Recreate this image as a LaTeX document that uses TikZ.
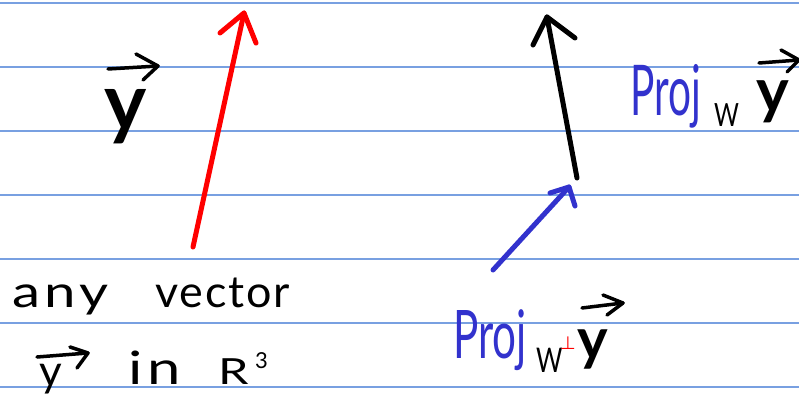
\documentclass[tikz,border=0pt]{standalone}
\usepackage{fontspec}
\setmainfont{Lato}
\newfontfamily\symfont{DejaVu Sans}
\definecolor{ruled}{RGB}{120,160,225}
\definecolor{penred}{RGB}{255,0,0}
\definecolor{penblue}{RGB}{50,50,205}
\tikzset{
  rule/.style={draw=ruled, line width=1.3pt},
  pen/.style={line width=5pt, line cap=round, line join=round},
  vecpen/.style={line width=3.5pt, line cap=round, line join=round, black},
  hand/.style={inner sep=0pt, anchor=base west},
}
\begin{document}
\begin{tikzpicture}[x=1pt,y=-1pt]
\useasboundingbox (0,0) rectangle (799,396);
\fill[white] (0,0) rectangle (799,396);
% ruled lines
\foreach \yy in {3,67,131,195,259,323,387}
  \draw[rule] (0,\yy) -- (799,\yy);
% red arrow
\coordinate (rt) at (193,247);
\coordinate (rh) at (244,13);
\coordinate (rb1) at (220,33);
\coordinate (rb2) at (256,43);
\draw[pen, penred] (rt) -- (rh);
\draw[pen, penred] (rb1) -- (rh) -- (rb2);
% black arrow
\coordinate (kt) at (577,178);
\coordinate (kh) at (547,17);
\coordinate (kb1) at (533,45);
\coordinate (kb2) at (575,38);
\draw[pen, black] (kt) -- (kh);
\draw[pen, black] (kb1) -- (kh) -- (kb2);
% blue arrow
\coordinate (bt) at (493,270);
\coordinate (bh) at (569,187);
\coordinate (bb1) at (550,193);
\coordinate (bb2) at (575,206);
\draw[pen, penblue] (bt) -- (bh);
\draw[pen, penblue] (bb1) -- (bh) -- (bb2);
% left y-vector
\node[hand, font=\fontsize{80}{84}\selectfont\bfseries] (yl) at (104,130) {y};
\coordinate (yla) at (108,69);
\coordinate (ylh) at (158,66);
\coordinate (ylb1) at (136,54);
\coordinate (ylb2) at (143,80);
\draw[vecpen] (yla) -- (ylh);
\draw[vecpen] (ylb1) -- (ylh) -- (ylb2);
% any vector
\node[hand, font=\fontsize{44}{46}\selectfont\addfontfeature{LetterSpace=8}] (any) at (12,307) {\scalebox{1.28}[1]{any}};
\node[hand, font=\fontsize{44}{46}\selectfont\addfontfeature{LetterSpace=4}] (vector) at (155,307) {\scalebox{1.02}[1]{vector}};
% y in R^3
\node[hand, font=\fontsize{44}{48}\selectfont] (ys) at (39,386) {y};
\coordinate (ysa) at (37,357);
\coordinate (ysh) at (88,353);
\coordinate (ysb1) at (70,347);
\coordinate (ysb2) at (77,368);
\draw[vecpen] (ysa) -- (ysh);
\draw[vecpen] (ysb1) -- (ysh) -- (ysb2);
\node[hand, font=\fontsize{46}{48}\selectfont\addfontfeature{LetterSpace=8}] (in) at (128,384) {\scalebox{1.3}[1]{in}};
\node[hand, font=\fontsize{36}{40}\selectfont] (R) at (218,384) {\scalebox{1.35}[1]{R}};
\node[hand, font=\fontsize{22}{24}\selectfont] (three) at (255,368) {3};
% Proj_W y
\node[hand, font=\fontsize{70}{74}\selectfont, text=penblue] (proj1) at (630,115) {\scalebox{0.58}[1]{Proj}};
\node[hand, font=\fontsize{32}{34}\selectfont] (w1) at (714,126) {\scalebox{0.75}[1]{W}};
\node[hand, font=\fontsize{62}{66}\selectfont\bfseries] (y1) at (756,112) {y};
\coordinate (y1a) at (759,63);
\coordinate (y1h) at (799,60);
\coordinate (y1b1) at (781,50);
\coordinate (y1b2) at (787,72);
\draw[vecpen] (y1a) -- (y1h);
\draw[vecpen] (y1b1) -- (y1h) -- (y1b2);
% Proj_W-perp y
\node[hand, font=\fontsize{67}{70}\selectfont, text=penblue] (proj2) at (453,358) {\scalebox{0.63}[1]{Proj}};
\node[hand, font=\fontsize{34}{36}\selectfont] (w2) at (536,372) {\scalebox{0.75}[1]{W}};
\node[hand, font=\symfont\fontsize{18}{20}\selectfont, text=penred] (perp) at (560,349) {⊥};
\node[hand, font=\fontsize{58}{60}\selectfont\bfseries] (y2) at (577,359) {y};
\coordinate (y2a) at (582,308);
\coordinate (y2h) at (623,303);
\coordinate (y2b1) at (603,295);
\coordinate (y2b2) at (607,315);
\draw[vecpen] (y2a) -- (y2h);
\draw[vecpen] (y2b1) -- (y2h) -- (y2b2);
\end{tikzpicture}
\end{document}
